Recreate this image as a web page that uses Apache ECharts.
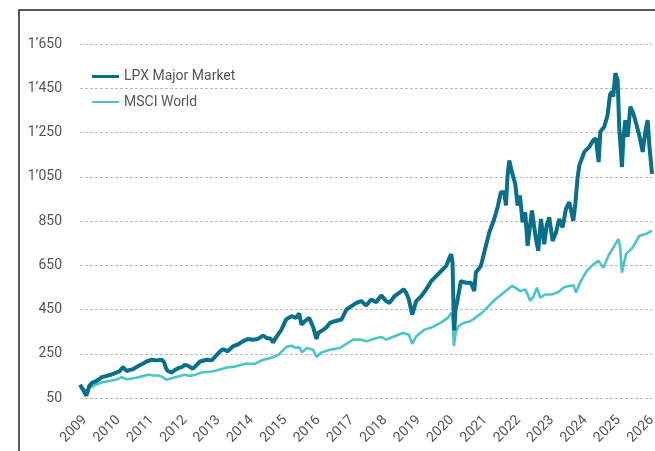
<!DOCTYPE html>
<html>
<head>
<meta charset="utf-8">
<script src="https://cdn.jsdelivr.net/npm/echarts@6/dist/echarts.min.js"></script>
<style>html,body{margin:0;padding:0;background:#fff;}#c{width:655px;height:451px;}</style>
</head>
<body>
<div id="c"></div>
<script>
const seriesNames = ['LPX Major Market', 'MSCI World'];
const yTicks = [50, 250, 450, 650, 850, 1050, 1250, 1450, 1650];

const lpxYears = [2009.00,2009.10,2009.19,2009.28,2009.35,2009.45,2009.55,2009.65,2009.80,2009.92,
2010.05,2010.18,2010.29,2010.40,2010.50,2010.59,2010.75,2010.88,2011.00,2011.15,
2011.30,2011.45,2011.52,2011.58,2011.63,2011.75,2011.85,2011.95,2012.05,2012.14,
2012.25,2012.38,2012.50,2012.60,2012.80,2012.95,2013.10,2013.19,2013.30,2013.42,
2013.58,2013.72,2013.88,2014.03,2014.18,2014.33,2014.49,2014.60,2014.72,2014.79,
2014.88,2015.04,2015.18,2015.34,2015.48,2015.57,2015.64,2015.74,2015.87,2015.99,
2016.09,2016.15,2016.30,2016.40,2016.49,2016.64,2016.84,2016.99,2017.14,2017.29,
2017.43,2017.58,2017.73,2017.88,2018.03,2018.18,2018.28,2018.43,2018.58,2018.70,
2018.78,2018.86,2018.96,2019.08,2019.23,2019.38,2019.53,2019.68,2019.83,2019.98,
2020.08,2020.13,2020.17,2020.20,2020.22,2020.26,2020.32,2020.42,2020.57,2020.72,
2020.82,2020.87,2021.02,2021.12,2021.27,2021.42,2021.52,2021.62,2021.72,2021.77,
2021.82,2021.87,2021.95,2022.05,2022.12,2022.19,2022.27,2022.35,2022.42,2022.55,
2022.67,2022.74,2022.82,2022.92,2022.99,2023.07,2023.17,2023.27,2023.37,2023.47,
2023.57,2023.67,2023.79,2023.85,2023.92,2023.97,2024.12,2024.27,2024.39,2024.47,
2024.55,2024.60,2024.72,2024.82,2024.89,2024.95,2024.99,2025.05,2025.12,2025.17,
2025.25,2025.29,2025.35,2025.42,2025.50,2025.59,2025.69,2025.79,2025.87,2025.95,
2026.02,2026.07,2026.15];
const lpxValues = [110,85,60,105,117,124,132,144,150,155,
162,170,190,172,177,180,195,205,215,223,
220,223,212,185,172,165,177,185,190,200,
195,182,200,215,223,220,245,260,271,260,
283,291,306,317,313,317,332,321,318,301,
324,359,405,420,412,432,382,397,412,371,
317,345,359,371,389,397,405,450,465,480,
488,468,495,483,514,488,480,510,526,541,
526,495,427,488,510,541,578,601,624,647,
685,700,660,450,355,450,495,578,571,571,
533,617,647,708,798,859,912,980,980,920,
1056,1124,1071,1018,920,965,844,889,738,897,
768,715,859,745,829,867,760,798,859,821,
905,935,851,927,1048,1100,1162,1185,1215,1223,
1116,1253,1276,1330,1420,1435,1412,1518,1488,1268,
1094,1223,1306,1230,1367,1336,1283,1223,1162,1253,
1306,1193,1063];

const msciYears = [2009.00,2009.10,2009.19,2009.35,2009.50,2009.65,2009.80,2009.95,2010.10,2010.25,
2010.40,2010.55,2010.75,2010.90,2011.05,2011.20,2011.35,2011.45,2011.60,2011.72,
2011.85,2012.14,2012.30,2012.45,2012.65,2012.95,2013.15,2013.40,2013.65,2013.95,
2014.25,2014.49,2014.65,2014.79,2014.95,2015.00,2015.18,2015.34,2015.48,2015.57,
2015.66,2015.80,2015.99,2016.09,2016.24,2016.49,2016.79,2016.99,2017.19,2017.39,
2017.59,2017.79,2018.03,2018.18,2018.38,2018.68,2018.86,2018.96,2019.08,2019.33,
2019.58,2019.83,2020.03,2020.13,2020.17,2020.21,2020.27,2020.35,2020.50,2020.70,
2020.85,2021.05,2021.25,2021.45,2021.70,2021.95,2022.05,2022.20,2022.35,2022.50,
2022.60,2022.70,2022.80,2022.95,2023.15,2023.35,2023.50,2023.65,2023.80,2023.87,
2023.99,2024.19,2024.39,2024.54,2024.69,2024.84,2024.99,2025.14,2025.19,2025.25,
2025.37,2025.57,2025.77,2025.97,2026.15];
const msciValues = [100,92,82,101,112,120,125,129,134,144,
135,138,144,150,155,152,152,147,132,138,
144,155,150,155,165,170,177,188,192,205,
205,223,228,235,245,253,280,286,276,280,
256,276,268,235,256,268,276,295,314,314,
306,317,326,314,326,344,336,295,329,359,
371,392,412,435,410,285,350,375,389,397,
412,435,465,495,526,556,549,533,541,490,
510,549,503,518,518,529,549,556,559,526,
571,624,654,670,639,692,730,768,738,617,
700,730,783,791,806];

const lpxColor = '#0a6f89';
const msciColor = '#4cc4c8';

const lpxData = lpxYears.map((y, i) => [y, lpxValues[i]]);
const msciData = msciYears.map((y, i) => [y, msciValues[i]]);

const chart = echarts.init(document.getElementById('c'), null, {renderer: 'canvas'});
const fmtY = v => v >= 1000 ? Math.floor(v / 1000) + '\u2019' + String(v % 1000).padStart(3, '0') : String(v);
const legendText = {fontSize: 14, color: '#555', fontFamily: 'Roboto'};

chart.setOption({
  animation: false,
  backgroundColor: '#fff',
  textStyle: {fontFamily: 'Roboto'},
  graphic: [{
    type: 'rect',
    shape: {x: 19, y: 10, width: 900, height: 700},
    style: {fill: 'none', stroke: '#222', lineWidth: 1.5},
    silent: true, z: 100
  }],
  legend: [{
    data: [{name: seriesNames[0], icon: 'rect'}],
    left: 92, top: 69.5, padding: 0,
    itemWidth: 27, itemHeight: 3,
    textStyle: legendText
  }, {
    data: [{name: seriesNames[1], icon: 'rect'}],
    left: 92, top: 95, padding: 0,
    itemWidth: 27, itemHeight: 2,
    textStyle: legendText
  }],
  grid: {left: 80, right: 3, top: 44, bottom: 53, containLabel: false, outerBoundsMode: 'none'},
  xAxis: {
    type: 'value',
    min: 2009,
    max: 2026.15,
    interval: 1,
    axisLine: {show: false},
    axisTick: {show: false},
    splitLine: {show: false},
    axisLabel: {
      rotate: 45,
      margin: 15,
      align: 'right',
      verticalAlign: 'top',
      fontSize: 14,
      color: '#555',
      fontFamily: 'Roboto',
      formatter: v => Math.abs(v - Math.round(v)) < 1e-6 ? String(Math.round(v)) : ''
    }
  },
  yAxis: {
    type: 'value',
    min: yTicks[0],
    max: yTicks[yTicks.length - 1],
    interval: yTicks[1] - yTicks[0],
    axisLine: {show: false},
    axisTick: {show: false},
    axisLabel: {margin: 18, fontSize: 14, color: '#555', fontFamily: 'Roboto', formatter: fmtY},
    splitLine: {lineStyle: {color: '#bbb', width: 1, type: [3, 2]}}
  },
  series: [
    {
      name: seriesNames[1], type: 'line', data: msciData, symbol: 'none', showSymbol: false,
      lineStyle: {color: msciColor, width: 2.6}, itemStyle: {color: msciColor}, z: 2
    },
    {
      name: seriesNames[0], type: 'line', data: lpxData, symbol: 'none', showSymbol: false,
      lineStyle: {color: lpxColor, width: 4}, itemStyle: {color: lpxColor}, z: 3
    }
  ]
});
</script>
</body>
</html>
